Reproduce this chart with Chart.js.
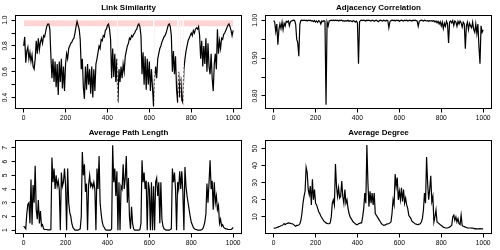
<!DOCTYPE html>
<html><head><meta charset="utf-8">
<script src="https://cdn.jsdelivr.net/npm/chart.js@4/dist/chart.umd.min.js"></script>
<style>
html,body{margin:0;padding:0;background:#fff;}
#wrap{position:relative;width:500px;height:250px;background:#fff;}
canvas{position:absolute;}
</style></head><body>
<div id="wrap">
<canvas id="c1" width="250" height="125" style="left:0;top:0"></canvas>
<canvas id="c2" width="250" height="125" style="left:250px;top:0"></canvas>
<canvas id="c3" width="250" height="125" style="left:0;top:125px"></canvas>
<canvas id="c4" width="250" height="125" style="left:250px;top:125px"></canvas>
</div>
<script>
// ---------- DATA ----------
const timeIndex = [
0,5,10,15,20,25,30,35,40,45,
50,55,60,65,70,75,80,85,90,95,
100,105,110,115,120,125,130,135,140,145,
150,155,160,165,170,175,180,185,190,195,
200,205,210,215,220,225,230,235,240,245,
250,255,260,265,270,275,280,285,290,295,
300,305,310,315,320,325,330,335,340,345,
350,355,360,365,370,375,380,385,390,395,
400,405,410,415,420,425,430,435,440,445,
450,455,460,465,470,475,480,485,490,495,
500,505,510,515,520,525,530,535,540,545,
550,555,560,565,570,575,580,585,590,595,
600,605,610,615,620,625,630,635,640,645,
650,655,660,665,670,675,680,685,690,695,
700,705,710,715,720,725,730,735,740,745,
750,755,760,765,770,775,780,785,790,795,
800,805,810,815,820,825,830,835,840,845,
850,855,860,865,870,875,880,885,890,895,
900,905,910,915,920,925,930,935,940,945,
950,955,960,965,970,975,980,985,990,995,
1000];

const linkSimilarity = [
0.80,0.87,0.67,0.76,0.79,0.70,0.75,0.68,0.73,0.64,
0.62,0.70,0.84,0.74,0.86,0.77,0.83,0.86,0.82,0.88,
0.87,0.91,0.95,0.97,0.97,0.93,0.72,0.55,0.70,0.52,
0.68,0.48,0.66,0.42,0.68,0.52,0.70,0.47,0.64,0.45,
0.66,0.74,0.70,0.78,0.80,0.82,0.83,0.85,0.86,0.90,
0.95,0.99,0.96,0.93,0.85,0.62,0.70,0.48,0.39,0.64,
0.46,0.66,0.50,0.62,0.43,0.64,0.40,0.62,0.45,0.66,
0.70,0.75,0.80,0.78,0.85,0.84,0.88,0.87,0.92,0.93,
0.96,0.97,0.93,0.85,0.55,0.78,0.56,0.74,0.52,0.70,
0.36,0.62,0.52,0.64,0.55,0.66,0.60,0.72,0.76,0.80,
0.82,0.86,0.85,0.88,0.87,0.89,0.90,0.92,0.93,0.96,
0.97,0.95,0.88,0.58,0.75,0.50,0.72,0.46,0.70,0.50,
0.68,0.45,0.62,0.48,0.33,0.56,0.64,0.55,0.70,0.74,
0.78,0.80,0.83,0.85,0.87,0.88,0.90,0.93,0.96,0.97,
0.95,0.88,0.60,0.76,0.58,0.72,0.46,0.36,0.60,0.40,
0.56,0.38,0.36,0.62,0.70,0.76,0.80,0.84,0.86,0.88,
0.90,0.88,0.92,0.90,0.93,0.94,0.93,0.95,0.88,0.70,
0.84,0.64,0.80,0.66,0.86,0.60,0.82,0.64,0.58,0.74,
0.55,0.45,0.66,0.74,0.62,0.93,0.74,0.84,0.78,0.86,
0.85,0.89,0.90,0.92,0.94,0.96,0.97,0.95,0.92,0.88,
0.92];

const adjacencyCorrelation = [
0.999,0.995,0.970,0.990,0.935,0.975,0.990,0.978,0.995,0.975,
0.992,0.985,0.997,0.995,0.998,0.985,0.996,0.998,0.999,1.000,
0.999,0.990,0.950,0.940,0.905,0.990,0.999,1.000,0.999,1.000,
0.999,1.000,0.998,1.000,0.999,1.000,0.998,0.999,0.996,0.999,
0.995,0.998,0.994,0.999,0.997,0.990,0.998,0.996,0.999,0.997,
0.777,0.995,0.985,0.998,0.999,1.000,0.999,1.000,0.999,1.000,
0.999,1.000,0.998,1.000,0.999,1.000,0.998,0.999,0.997,0.999,
0.998,1.000,0.997,0.999,0.998,0.996,0.999,0.997,0.995,0.998,
0.993,0.885,0.996,0.999,1.000,0.999,1.000,0.999,0.998,1.000,
0.999,1.000,0.999,0.998,1.000,0.999,0.997,0.999,1.000,0.998,
0.996,0.999,1.000,0.999,0.998,1.000,0.999,0.998,1.000,0.999,
0.980,0.996,0.999,1.000,0.999,1.000,0.998,1.000,0.999,1.000,
0.997,0.999,1.000,0.999,0.998,1.000,0.999,1.000,0.998,0.999,
1.000,0.999,0.998,1.000,0.999,1.000,0.999,0.998,0.984,0.997,
0.999,1.000,0.999,0.998,1.000,0.999,0.998,0.999,0.997,0.999,
0.998,0.999,0.997,0.999,0.995,0.998,0.993,0.997,0.990,0.996,
0.985,0.995,0.978,0.992,0.984,0.997,0.990,0.940,0.995,0.998,
0.993,0.999,0.986,0.998,0.995,0.984,0.997,0.990,0.998,0.993,
0.982,0.995,0.990,0.925,0.985,0.995,0.975,0.992,0.985,0.980,
0.995,0.975,0.968,0.990,0.965,0.990,0.930,0.885,0.985,0.968,
0.975];

const averagePathLength = [
1.3,1.2,1.1,2.2,2.9,3.0,1.5,4.7,1.4,4.3,
3.0,5.7,2.5,1.8,3.2,1.5,2.4,1.3,1.4,1.1,
1.05,1.05,1.05,1.03,1.02,1.02,1.05,6.3,4.5,5.5,
4.0,5.0,4.2,4.6,4.0,1.0,5.2,4.2,4.5,5.5,
4.3,1.0,5.5,3.0,2.3,2.0,1.5,1.2,1.1,1.0,
1.0,1.0,1.0,1.05,1.1,2.0,6.7,5.0,5.8,3.8,
4.4,1.0,4.3,5.0,4.2,4.4,4.1,4.5,4.0,1.0,
5.5,4.0,6.4,3.0,2.2,1.6,1.3,1.2,1.05,1.0,
1.0,1.0,1.0,1.0,1.1,7.2,4.5,5.5,3.5,5.3,
1.0,4.5,1.0,4.2,4.0,5.8,4.0,4.8,6.4,3.0,
4.8,2.0,1.1,2.7,1.5,1.1,1.0,1.0,1.0,1.0,
1.0,1.05,1.5,6.1,4.5,5.2,4.0,4.6,1.0,4.5,
4.0,1.0,4.5,1.0,4.2,1.0,4.5,4.8,3.5,4.5,
1.5,4.5,1.8,1.3,1.1,1.05,1.0,1.0,1.0,1.0,
1.05,1.1,5.5,4.5,5.2,4.0,1.0,4.5,4.0,5.3,
4.0,5.3,3.8,1.0,5.6,4.2,3.5,3.0,2.5,2.0,
1.6,1.4,1.2,1.1,1.05,1.05,1.0,1.0,1.0,1.0,
1.05,1.1,1.3,1.6,2.2,4.4,3.0,4.5,6.1,4.0,
4.6,2.5,4.5,3.0,3.5,2.5,2.8,1.5,1.8,1.3,
1.4,1.2,1.15,1.1,1.1,1.05,1.05,1.05,1.05,1.1,
1.2];

const averageDegree = [
3.5,3.4,3.5,3.8,4.0,4.3,4.5,4.8,5.0,5.5,
6.1,5.5,6.0,6.2,6.5,6.4,6.2,6.0,6.0,5.5,
5.0,4.5,5.0,5.0,5.2,6.0,8.0,12.0,18.0,22.0,
25,39,36,26,23,28,17,32,20,26,
18,17,15,13,12,10.5,9.5,8.5,7.5,7.0,
6.5,6.2,6.0,6.0,6.5,10,18,20,17,41,
28,22,27,21,22,31,22,18,26,18,
20,15,12,10,9,8,7,6.5,6,5.5,
5.5,6.0,6.2,6.5,6.5,10,15,24,18,52,
30,16,25,18,24,17,24,12,11,10,
9,8,7,6,5.5,5,5.2,5.5,5.8,6,
6,6.5,7,12,20,17,35,28,33,20,
25,20,27,19,26,18,21,17,15,11,
10,9,7.5,7,6.5,6,5.8,5.5,5.5,5.8,
6,7,9,14,24,18,45,30,20,26,
34,19,22,7,10,14,7,6.5,6,5.5,
5,4.5,4.0,3.8,3.5,3.5,3.5,3.8,4.0,4.5,
5,10,11,8,10,7,9,6,5.5,11,
5,4.5,4.3,4.0,3.8,3.6,3.5,3.5,3.5,3.4,
3.5,3.3,3.0,3.1,3.0,3.0,3.0,3.1,3.0,3.0,
3.0];

const xTickValues = [0,200,400,600,800,1000];
const linkTicks = [0.4,0.5,0.6,0.7,0.8,0.9,1.0];
const linkTickLabels = ['0.4','','0.6','','0.8','','1.0'];
const adjTicks = [0.80,0.85,0.90,0.95,1.00];
const adjTickLabels = ['0.80','','0.90','','1.00'];
const pathTicks = [1,2,3,4,5,6,7];
const pathTickLabels = ['1','2','3','4','5','6','7'];
const degreeTicks = [10,20,30,40,50];
const degreeTickLabels = ['10','20','30','40','50'];

// highlighted band (Link Similarity panel)
const bandStart = [1, 450, 623, 739, 751, 763];
const bandEnd   = [445, 618, 734, 746, 758, 1000];
const bandLow = 0.95, bandHigh = 1.0;
const markerLines = [447, 620, 736, 748, 760];

// ---------- DRAWING ----------
const FONT = "'Liberation Sans', Arial, Helvetica, sans-serif";
const TICK_FONT = 6.7;
const TICK_LEN = 4;
const LEFT = 15.5, RIGHT_PAD = 8.5, TOP = 15.5, BOTTOM_H = 16.5;

const boxPlugin = {
  id: 'rbox',
  afterDraw(chart) {
    const ca = chart.chartArea, c = chart.ctx;
    c.save();
    c.strokeStyle = '#000'; c.lineWidth = 1;
    c.strokeRect(ca.left, ca.top, ca.right - ca.left, ca.bottom - ca.top);
    c.restore();
  }
};

const bandPlugin = {
  id: 'band',
  beforeDatasetsDraw(chart) {
    const c = chart.ctx, xs = chart.scales.x, ys = chart.scales.y;
    c.save();
    for (let k = 0; k < bandStart.length; k++) {
      const x0 = xs.getPixelForValue(bandStart[k]);
      const x1 = xs.getPixelForValue(bandEnd[k]);
      const y0 = ys.getPixelForValue(bandHigh);
      const y1 = ys.getPixelForValue(bandLow);
      c.save();
      c.beginPath(); c.rect(x0, y0, x1 - x0, y1 - y0); c.clip();
      c.fillStyle = '#FFDADA';
      c.fillRect(x0, y0, x1 - x0, y1 - y0);
      c.strokeStyle = 'rgba(255,170,170,0.55)'; c.lineWidth = 0.6;
      c.beginPath();
      for (let hx = x0 - 20; hx < x1 + 20; hx += 3) {
        c.moveTo(hx, y1); c.lineTo(hx + (y1 - y0), y0);
      }
      c.stroke();
      c.restore();
    }
    c.restore();
  },
  afterDatasetsDraw(chart) {
    const c = chart.ctx, xs = chart.scales.x, ca = chart.chartArea;
    c.save();
    c.strokeStyle = 'rgba(255,238,238,0.85)'; c.lineWidth = 1;
    c.setLineDash([3, 1]);
    markerLines.forEach(v => {
      const px = Math.round(xs.getPixelForValue(v)) + 0.5;
      c.beginPath(); c.moveTo(px, ca.top + 1); c.lineTo(px, ca.bottom - 1); c.stroke();
    });
    c.restore();
  }
};

function makePanel(id, title, series, yMin, yMax, yTicks, yLabels, extra) {
  const canvas = document.getElementById(id);
  const m = canvas.getContext('2d');
  m.font = TICK_FONT + 'px ' + FONT;
  const widest = Math.max(...yLabels.map(s => m.measureText(s).width));
  const labelCenter = 5.3;
  const yPad = Math.max(0, LEFT - TICK_LEN - labelCenter - widest / 2);
  const pts = timeIndex.map((t, i) => ({x: t, y: series[i]}));
  return new Chart(canvas, {
    type: 'line',
    data: { datasets: [{ data: pts, borderColor: '#000', borderWidth: 1.2,
      pointRadius: 0, tension: 0, fill: false }] },
    options: {
      responsive: false, animation: false, devicePixelRatio: 1,
      parsing: false, normalized: true,
      layout: { padding: { left: 0, right: RIGHT_PAD, top: 0, bottom: 0 } },
      plugins: {
        legend: { display: false }, tooltip: { enabled: false },
        title: { display: true, text: title, color: '#000', fullSize: false,
          font: { family: FONT, size: 8, weight: 'bold', lineHeight: 1.2 },
          padding: { top: 3.4, bottom: TOP - 3.4 - 9.6 } }
      },
      scales: {
        x: { type: 'linear', min: -38.96, max: 1039.96,
          afterBuildTicks: s => { s.ticks = xTickValues.map(v => ({value: v})); },
          afterFit: s => { s.height = BOTTOM_H; },
          grid: { drawOnChartArea: false, drawTicks: true, tickLength: TICK_LEN, color: '#000', tickColor: '#000' },
          border: { display: false },
          ticks: { autoSkip: false, maxRotation: 0, minRotation: 0, padding: 1.6, color: '#000',
            font: { family: FONT, size: TICK_FONT, lineHeight: 1.2 },
            callback: v => String(v) } },
        y: { type: 'linear', min: yMin, max: yMax,
          afterBuildTicks: s => { s.ticks = yTicks.map(v => ({value: v})); },
          afterFit: s => { s.width = LEFT; },
          grid: { drawOnChartArea: false, drawTicks: true, tickLength: TICK_LEN, color: '#000', tickColor: '#000' },
          border: { display: false },
          ticks: { autoSkip: false, minRotation: 90, maxRotation: 90, crossAlign: 'center',
            padding: yPad, color: '#000',
            font: { family: FONT, size: TICK_FONT, lineHeight: 1.2 },
            callback: (v, i) => yLabels[i] } }
      }
    },
    plugins: [boxPlugin].concat(extra || [])
  });
}

makePanel('c1', 'Link Similarity', linkSimilarity, 0.315, 1.036, linkTicks, linkTickLabels, [bandPlugin]);
makePanel('c2', 'Adjacency Correlation', adjacencyCorrelation, 0.767, 1.0124, adjTicks, adjTickLabels);
makePanel('c3', 'Average Path Length', averagePathLength, 0.76, 7.54, pathTicks, pathTickLabels);
makePanel('c4', 'Average Degree', averageDegree, 0.29, 54.7, degreeTicks, degreeTickLabels);
</script>
</body></html>
